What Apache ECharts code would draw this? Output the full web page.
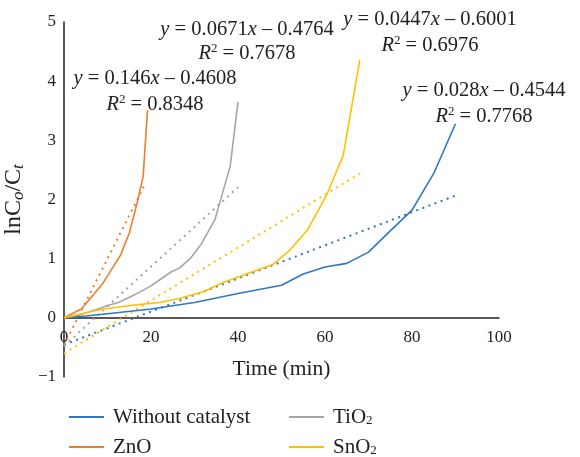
<!DOCTYPE html>
<html>
<head>
<meta charset="utf-8">
<script src="https://cdn.jsdelivr.net/npm/echarts@6/dist/echarts.min.js"></script>
<style>html,body{margin:0;padding:0;background:#fff}#c{width:580px;height:457px}</style>
</head>
<body>
<div id="c"></div>
<script>
// ---- data ----
const seriesNames = ['Without catalyst', 'ZnO', 'TiO2', 'SnO2'];
const blueTime = [0, 5, 10, 20, 30, 40, 50, 55, 60, 65, 70, 75, 80, 85, 90];
const blueVal  = [0, 0.03, 0.07, 0.15, 0.26, 0.41, 0.55, 0.74, 0.86, 0.92, 1.11, 1.47, 1.82, 2.44, 3.28];
const znoTime  = [0, 4, 9, 13, 15, 16.8, 18.2, 19.2];
const znoVal   = [0, 0.15, 0.59, 1.06, 1.43, 1.94, 2.39, 3.51];
const tioTime  = [0, 4, 7, 10, 12.5, 16, 20, 24.5, 26.5, 29, 31.5, 34.7, 38.2, 40];
const tioVal   = [0, 0.06, 0.13, 0.21, 0.26, 0.38, 0.54, 0.77, 0.84, 1.0, 1.24, 1.66, 2.56, 3.65];
const snoTime  = [0, 4, 9, 16.8, 22, 26.7, 32, 36.7, 48, 52, 56, 60.4, 64.2, 68];
const snoVal   = [0, 0.07, 0.15, 0.22, 0.26, 0.33, 0.44, 0.6, 0.9, 1.15, 1.49, 2.08, 2.75, 4.36];
// trendline end points [x0, y0, x1, y1]
const blueTrend = [0, -0.4544, 90, 2.0656];
const znoTrend  = [0, -0.4608, 18.8, 2.2840];
const tioTrend  = [0, -0.4764, 40, 2.2076];
const snoTrend  = [0, -0.6001, 68, 2.4395];
const eqText = [
  ['{i|y} = 0.146{i|x} – 0.4608', '{i|R}{sup|2} = 0.8348'],
  ['{i|y} = 0.0671{i|x} – 0.4764', '{i|R}{sup|2} = 0.7678'],
  ['{i|y} = 0.0447{i|x} – 0.6001', '{i|R}{sup|2} = 0.6976'],
  ['{i|y} = 0.028{i|x} – 0.4544', '{i|R}{sup|2} = 0.7768']
];
const colors = ['#2e78c2', '#ed7d31', '#a5a5a5', '#ffc000'];

const FONT = 'Liberation Serif';
const TXT = '#222';
const zip = (a, b) => a.map((v, i) => [v, b[i]]);
const trend = t => [[t[0], t[1]], [t[2], t[3]]];

function lineSeries(name, data, color) {
  return { name, type: 'line', data, showSymbol: false, symbol: 'none', smooth: false,
    lineStyle: { color, width: 1.6 }, itemStyle: { color }, z: 3, silent: true };
}
function trendSeries(name, data, color) {
  return { name, type: 'line', data, showSymbol: false, symbol: 'none',
    lineStyle: { color, width: 2, type: [2, 4.5] }, itemStyle: { color }, z: 2, silent: true };
}

const EQ = 20.5;
const rich = {
  i: { fontFamily: FONT, fontSize: EQ, fontStyle: 'italic', color: TXT },
  sup: { fontFamily: FONT, fontSize: 13, color: TXT, padding: [0, 0, 11, 0] }
};
const eqPos = [[155, 79, 105], [247, 30, 54], [430, 20, 46], [484, 91, 117]];
const graphics = [];
eqText.forEach((lines, k) => {
  lines.forEach((t, j) => {
    graphics.push({ type: 'text', x: eqPos[k][0], y: eqPos[k][1 + j], z: 10,
      style: { text: t, rich, fontFamily: FONT, fontSize: EQ, fill: TXT,
        textAlign: 'center', textVerticalAlign: 'middle' } });
  });
});

const legendFmt = n => n.replace(/O2$/, 'O{sub|2}');
function legendItem(name, left, top) {
  return {
    orient: 'horizontal', icon: 'rect', itemWidth: 35, itemHeight: 2,
    left, top, data: [name], selectedMode: false, formatter: legendFmt,
    textStyle: { fontFamily: FONT, fontSize: 21, color: TXT, lineHeight: 22,
      padding: [0, 0, 0, 4],
      rich: { sub: { fontFamily: FONT, fontSize: 13, color: TXT, lineHeight: 13, padding: [8, 0, 0, 0] } } }
  };
}

const yNameRich = {
  sub: { fontFamily: FONT, fontSize: 17, fontStyle: 'italic', color: TXT, padding: [10, 0, 0, 0] }
};

const chart = echarts.init(document.getElementById('c'), null, { renderer: 'canvas' });
chart.setOption({
  animation: false,
  color: colors,
  grid: { left: 64, right: 81, top: 22, bottom: 80, containLabel: false, outerBoundsMode: 'none' },
  xAxis: {
    type: 'value', min: 0, max: 100, interval: 20,
    offset: -355 / 6,
    name: 'Time (min)', nameLocation: 'middle', nameGap: 41,
    nameTextStyle: { fontFamily: FONT, fontSize: 21.5, color: TXT },
    axisLine: { onZero: false, lineStyle: { color: TXT, width: 1.5 } },
    axisTick: { show: false }, splitLine: { show: false },
    axisLabel: { fontFamily: FONT, fontSize: 17, color: TXT, margin: 11 }
  },
  yAxis: {
    type: 'value', min: -1, max: 5, interval: 1,
    name: 'lnC{sub|o}/C{sub|t}', nameLocation: 'middle', nameGap: 31, nameRotate: 90,
    nameTextStyle: { fontFamily: FONT, fontSize: 24, color: TXT, rich: yNameRich },
    axisLine: { onZero: false, lineStyle: { color: TXT, width: 1.5 } },
    axisTick: { show: false }, splitLine: { show: false },
    axisLabel: { fontFamily: FONT, fontSize: 17, color: TXT, margin: 8,
      formatter: v => String(v).replace('-', '−') }
  },
  legend: [
    legendItem('Without catalyst', 64, 401),
    legendItem('ZnO', 64, 431),
    legendItem('TiO2', 284, 401),
    legendItem('SnO2', 284, 431)
  ],
  graphic: graphics,
  series: [
    trendSeries('t1', trend(blueTrend), colors[0]),
    trendSeries('t2', trend(znoTrend), colors[1]),
    trendSeries('t3', trend(tioTrend), colors[2]),
    trendSeries('t4', trend(snoTrend), colors[3]),
    lineSeries(seriesNames[0], zip(blueTime, blueVal), colors[0]),
    lineSeries(seriesNames[1], zip(znoTime, znoVal), colors[1]),
    lineSeries(seriesNames[2], zip(tioTime, tioVal), colors[2]),
    lineSeries(seriesNames[3], zip(snoTime, snoVal), colors[3])
  ]
});
</script>
</body>
</html>
